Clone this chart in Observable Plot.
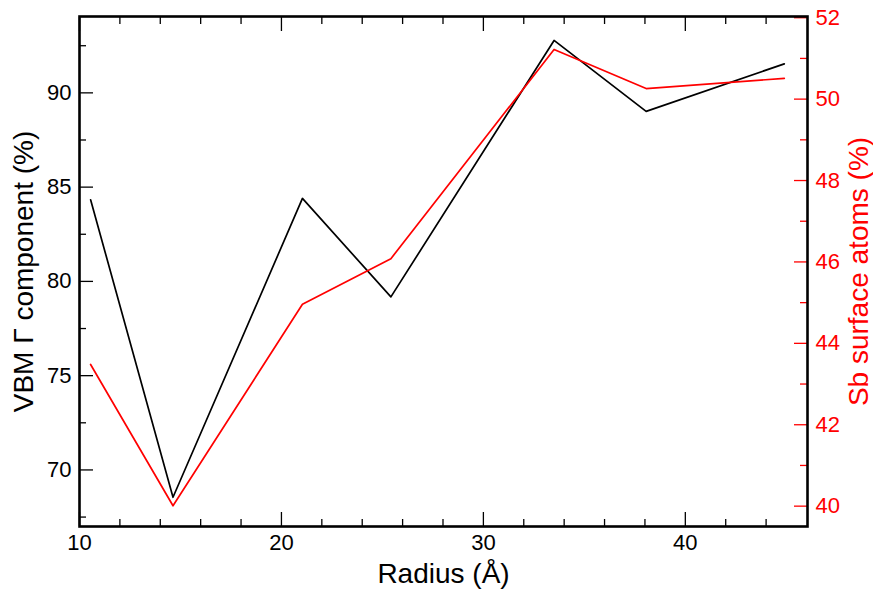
<!DOCTYPE html>
<html><head><meta charset="utf-8">
<script src="https://cdn.jsdelivr.net/npm/d3@7"></script>
<script src="https://cdn.jsdelivr.net/npm/@observablehq/plot@0.6"></script>
<style>
body{margin:0;background:#fff}
svg{font-family:"Liberation Sans",Arial,Helvetica,sans-serif}
</style>
</head><body><div id="chart"></div>
<script>
// ---- data ----
const radius    = [10.55, 14.63, 21.04, 25.42, 33.5, 38.06, 44.9];
const vbmGamma  = [84.33, 68.55, 84.4, 79.18, 92.78, 89.02, 91.54];
const sbSurface = [43.48, 40.01, 44.96, 46.08, 51.22, 50.26, 50.51];

const xMajorTicks = [10, 20, 30, 40];
const xMinorTicks = [12, 14, 16, 18, 22, 24, 26, 28, 32, 34, 36, 38, 42, 44];
const leftMajorTicks = [70, 75, 80, 85, 90];
const leftMinorTicks = [67.5, 72.5, 77.5, 82.5, 87.5, 92.5];
const rightMajorTicks = [40, 42, 44, 46, 48, 50, 52];
const rightMinorTicks = [41, 43, 45, 47, 49, 51];

const xTitle = "Radius (Å)";
const leftTitle = "VBM Γ component (%)";
const rightTitle = "Sb surface atoms (%)";

const xDomain = [10, 46.05];
const leftDomain = [67, 94.05];
const rightDomain = [39.5, 52.03];

// ---- build ----
const toLeft = d3.scaleLinear().domain(rightDomain).range(leftDomain);
const table = radius.map((r, i) => ({radius: r, vbm: vbmGamma[i], sb: sbSurface[i]}));

const RED = "#ff0000";
const tickFont = 22, titleFont = 28;

const chart = Plot.plot({
  width: 873,
  height: 591,
  marginLeft: 79,
  marginRight: 66,
  marginTop: 16,
  marginBottom: 65,
  x: {domain: xDomain},
  y: {domain: leftDomain},
  marks: [
    // bottom ticks (inward)
    Plot.axisX({anchor: "bottom", ticks: xMajorTicks, tickSize: 14, dy: -14, fill: "none", label: null, strokeWidth: 1.3}),
    Plot.axisX({anchor: "bottom", ticks: xMinorTicks, tickSize: 7, dy: -7, fill: "none", label: null, strokeWidth: 1.3}),
    Plot.axisX({anchor: "bottom", ticks: xMajorTicks, tickSize: 0, tickPadding: 8, fontSize: tickFont, label: null, fill: "black"}),
    // top ticks (inward)
    Plot.axisX({anchor: "top", ticks: xMajorTicks, tickSize: 14, dy: 14, fill: "none", label: null, strokeWidth: 1.3}),
    Plot.axisX({anchor: "top", ticks: xMinorTicks, tickSize: 7, dy: 7, fill: "none", label: null, strokeWidth: 1.3}),
    // left axis
    Plot.axisY({anchor: "left", ticks: leftMajorTicks, tickSize: 14, dx: 14, fill: "none", label: null, strokeWidth: 1.3}),
    Plot.axisY({anchor: "left", ticks: leftMinorTicks, tickSize: 7, dx: 7, fill: "none", label: null, strokeWidth: 1.3}),
    Plot.axisY({anchor: "left", ticks: leftMajorTicks, tickSize: 0, tickPadding: 8, fontSize: tickFont, label: null, fill: "black"}),
    // right axis (red, mapped onto left scale)
    Plot.axisY({anchor: "right", ticks: rightMajorTicks.map(toLeft), tickSize: 14, dx: -14, stroke: RED, fill: "none", label: null, strokeWidth: 1.3}),
    Plot.axisY({anchor: "right", ticks: rightMinorTicks.map(toLeft), tickSize: 8, dx: -8, stroke: RED, fill: "none", label: null, strokeWidth: 1.3}),
    Plot.axisY({anchor: "right", ticks: rightMajorTicks.map(toLeft), tickSize: 0, tickPadding: 8, fontSize: tickFont, label: null, fill: RED,
      tickFormat: d => String(Math.round(toLeft.invert(d)))}),
    // series
    Plot.line(table, {x: "radius", y: "vbm", stroke: "black", strokeWidth: 1.7}),
    Plot.line(table, {x: "radius", y: d => toLeft(d.sb), stroke: RED, strokeWidth: 1.7}),
    // frame
    Plot.frame({stroke: "black", strokeWidth: 2.6}),
    // titles
    Plot.text([xTitle], {frameAnchor: "bottom", dy: 48, textAnchor: "middle", lineAnchor: "middle", fontSize: titleFont, fill: "black"}),
    Plot.text([leftTitle], {frameAnchor: "left", dx: -55, rotate: -90, textAnchor: "middle", lineAnchor: "middle", fontSize: titleFont, fill: "black"}),
    Plot.text([rightTitle], {frameAnchor: "right", dx: 52, rotate: -90, textAnchor: "middle", lineAnchor: "middle", fontSize: titleFont, fill: RED})
  ]
});
document.getElementById("chart").appendChild(chart);
</script>
</body></html>
